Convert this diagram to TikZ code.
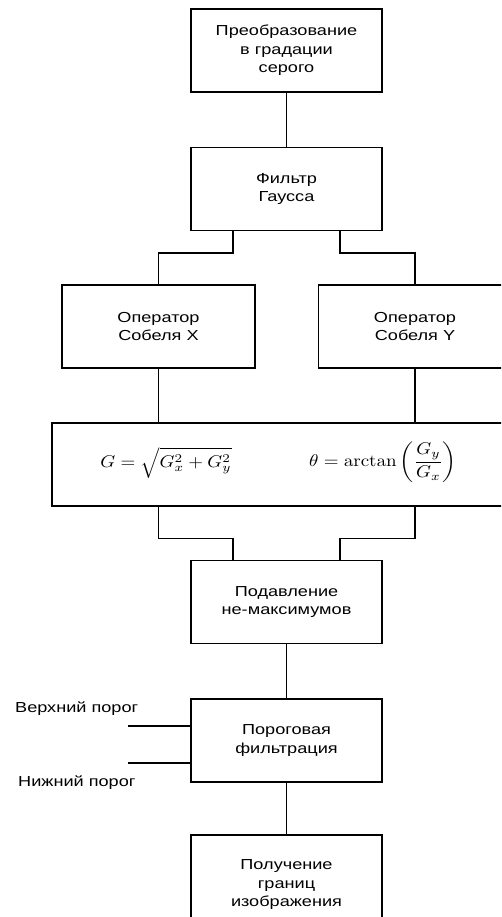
\documentclass[tikz,border=0pt]{standalone}
\usepackage[no-math]{fontspec}
\setmainfont{Liberation Sans}[FakeStretch=1.25]
\usepackage{amsmath}
\usepackage{tikz}
\usetikzlibrary{calc}
\usetikzlibrary{positioning}
\tikzset{
  blok/.style={draw, line width=1.1pt, align=center, inner sep=0pt,
    minimum width=191pt, minimum height=83pt,
    font=\fontsize{14.5}{18.5}\selectfont},
  lin/.style={line width=1.2pt},
  porog/.style={anchor=west, inner sep=0pt, font=\fontsize{14.5}{18.5}\selectfont},
  formula/.style={inner sep=0pt}
}
\newcommand{\fml}[1]{\scalebox{1.9}[1.7]{$#1$}}

\begin{document}
\begin{tikzpicture}[x=1pt,y=-1pt]
\useasboundingbox (0,0) rectangle (501,917);
\clip (0,0) rectangle (501,917);
% blocks
\node[blok] (gray) at (286.5,50.5) {Преобразование\\в градации\\серого};
\node[blok] (gauss) at (286.5,189) {Фильтр\\Гаусса};
\node[blok, minimum width=193pt] (sobx) at (158.5,326.5) {Оператор\\Собеля X};
\node[blok, minimum width=193pt] (soby) at (415,326.5) {Оператор\\Собеля Y};
\node[blok, minimum width=470pt] (grad) at (287,464.5) {};
\node[formula] (gmag) at (166,463) {\fml{G=\sqrt{G_x^2+G_y^2}}};
\node[formula] (gdir) at (383,462) {\fml{\theta=\arctan\left(\dfrac{G_y}{G_x}\right)}};
\node[blok] (nms) at (286.5,602) {Подавление\\не-максимумов};
\node[blok] (thr) at (286.5,740.5) {Пороговая\\фильтрация};
\node[blok, minimum height=100pt] (edges) at (286.5,885) {Получение\\границ\\изображения};
% thresholds
\coordinate (hi) at (128,726);
\coordinate (lo) at (128,763);
\node[porog] (hilabel) at (15,709) {Верхний порог};
\node[porog] (lolabel) at (18,783) {Нижний порог};
% connectors
\draw[lin] (gray) -- (gauss);
\draw[lin] ([xshift=-53.5pt]gauss.south) -- ++(0,22) -| (sobx.north);
\draw[lin] ([xshift=53.5pt]gauss.south) -- ++(0,22) -| (soby.north);
\draw[lin] (sobx.south) -- (sobx.south |- grad.north);
\draw[lin] (soby.south) -- (soby.south |- grad.north);
\draw[lin] (sobx.south |- grad.south) -- ++(0,32) -| ([xshift=-53.5pt]nms.north);
\draw[lin] (soby.south |- grad.south) -- ++(0,32) -| ([xshift=53.5pt]nms.north);
\draw[lin] (nms) -- (thr);
\draw[lin] (hi) -- (hi -| thr.west);
\draw[lin] (lo) -- (lo -| thr.west);
\draw[lin] (thr) -- (edges);
\end{tikzpicture}
\end{document}
